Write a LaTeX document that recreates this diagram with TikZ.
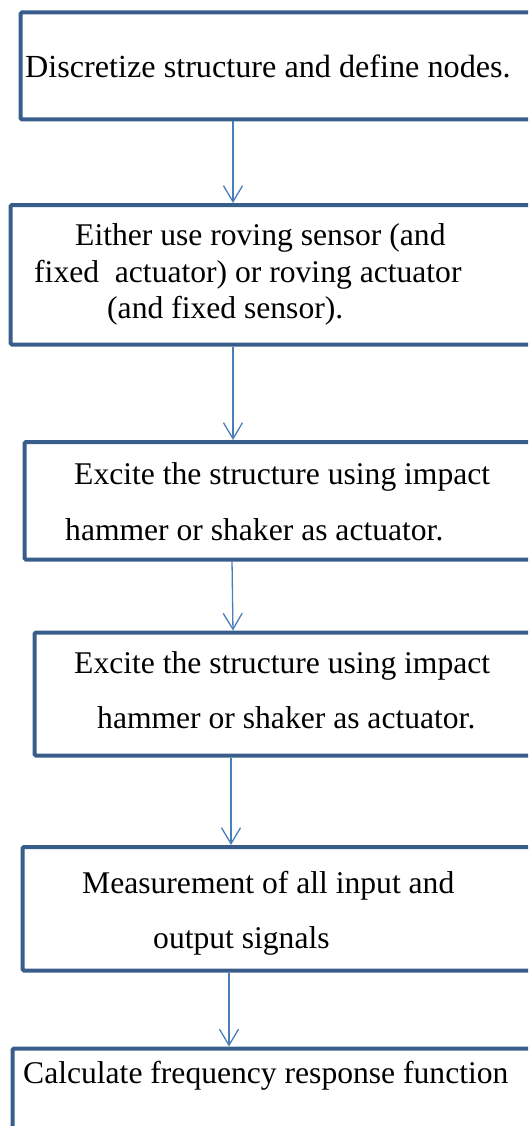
\documentclass[tikz,border=0pt]{standalone}
\usepackage{fontspec}
\setmainfont{Liberation Serif}
\usetikzlibrary{arrows.meta}
\definecolor{boxblue}{RGB}{56,93,138}
\definecolor{linkblue}{RGB}{74,126,187}
\begin{document}
\begin{tikzpicture}[x=1pt,y=-1pt,
  stepbox/.style={draw=boxblue,line width=4pt,rounded corners=1.5pt,anchor=north west,inner sep=0pt,outer sep=0pt},
  lbl/.style={anchor=base west,inner sep=0pt,font=\fontsize{31.6}{36}\selectfont},
  conn/.style={draw=linkblue,line width=1.3pt,shorten <=2pt,shorten >=2pt,
    -{Straight Barb[length=16pt,width=19pt,line width=1.3pt]}}]
\useasboundingbox (0,0) rectangle (528,1126);
\clip (0,0) rectangle (528,1126);
% boxes
\node[stepbox,minimum width=519.5pt,minimum height=107pt] (b1) at (20.5,12.5) {};
\node[stepbox,minimum width=529.5pt,minimum height=139.5pt] (b2) at (10.5,205) {};
\node[stepbox,minimum width=515.5pt,minimum height=117.5pt] (b3) at (24.5,442) {};
\node[stepbox,minimum width=505.5pt,minimum height=123pt] (b4) at (34.5,632.5) {};
\node[stepbox,minimum width=517.5pt,minimum height=123.5pt] (b5) at (22.5,847) {};
\node[stepbox,minimum width=527.5pt,minimum height=100pt] (b6) at (12.5,1048.5) {};
% texts
\node[lbl,font=\fontsize{32.2}{36}\selectfont] (t1) at (25,78) {Discretize structure and define nodes.};
\node[lbl] (t2a) at (75,245) {Either use roving sensor (and};
\node[lbl] (t2b) at (34,282) {fixed\ \ actuator) or roving actuator};
\node[lbl] (t2c) at (107,318) {(and fixed sensor).};
\node[lbl] (t3a) at (74,484) {Excite the structure using impact};
\node[lbl] (t3b) at (65,540) {hammer or shaker as actuator.};
\node[lbl] (t4a) at (74,673) {Excite the structure using impact};
\node[lbl] (t4b) at (97,728) {hammer or shaker as actuator.};
\node[lbl] (t5a) at (82,893) {Measurement of all input and};
\node[lbl] (t5b) at (153,948) {output signals};
\node[lbl] (t6) at (23,1083) {Calculate frequency response function};
% connectors
\draw[conn] (233,0 |- b1.south) -- (233,0 |- b2.north);
\draw[conn] (233,0 |- b2.south) -- (233,0 |- b3.north);
\draw[conn] (232,0 |- b3.south) -- (233,0 |- b4.north);
\draw[conn] (231,0 |- b4.south) -- (231,0 |- b5.north);
\draw[conn] (229,0 |- b5.south) -- (229,0 |- b6.north);
\end{tikzpicture}
\end{document}
